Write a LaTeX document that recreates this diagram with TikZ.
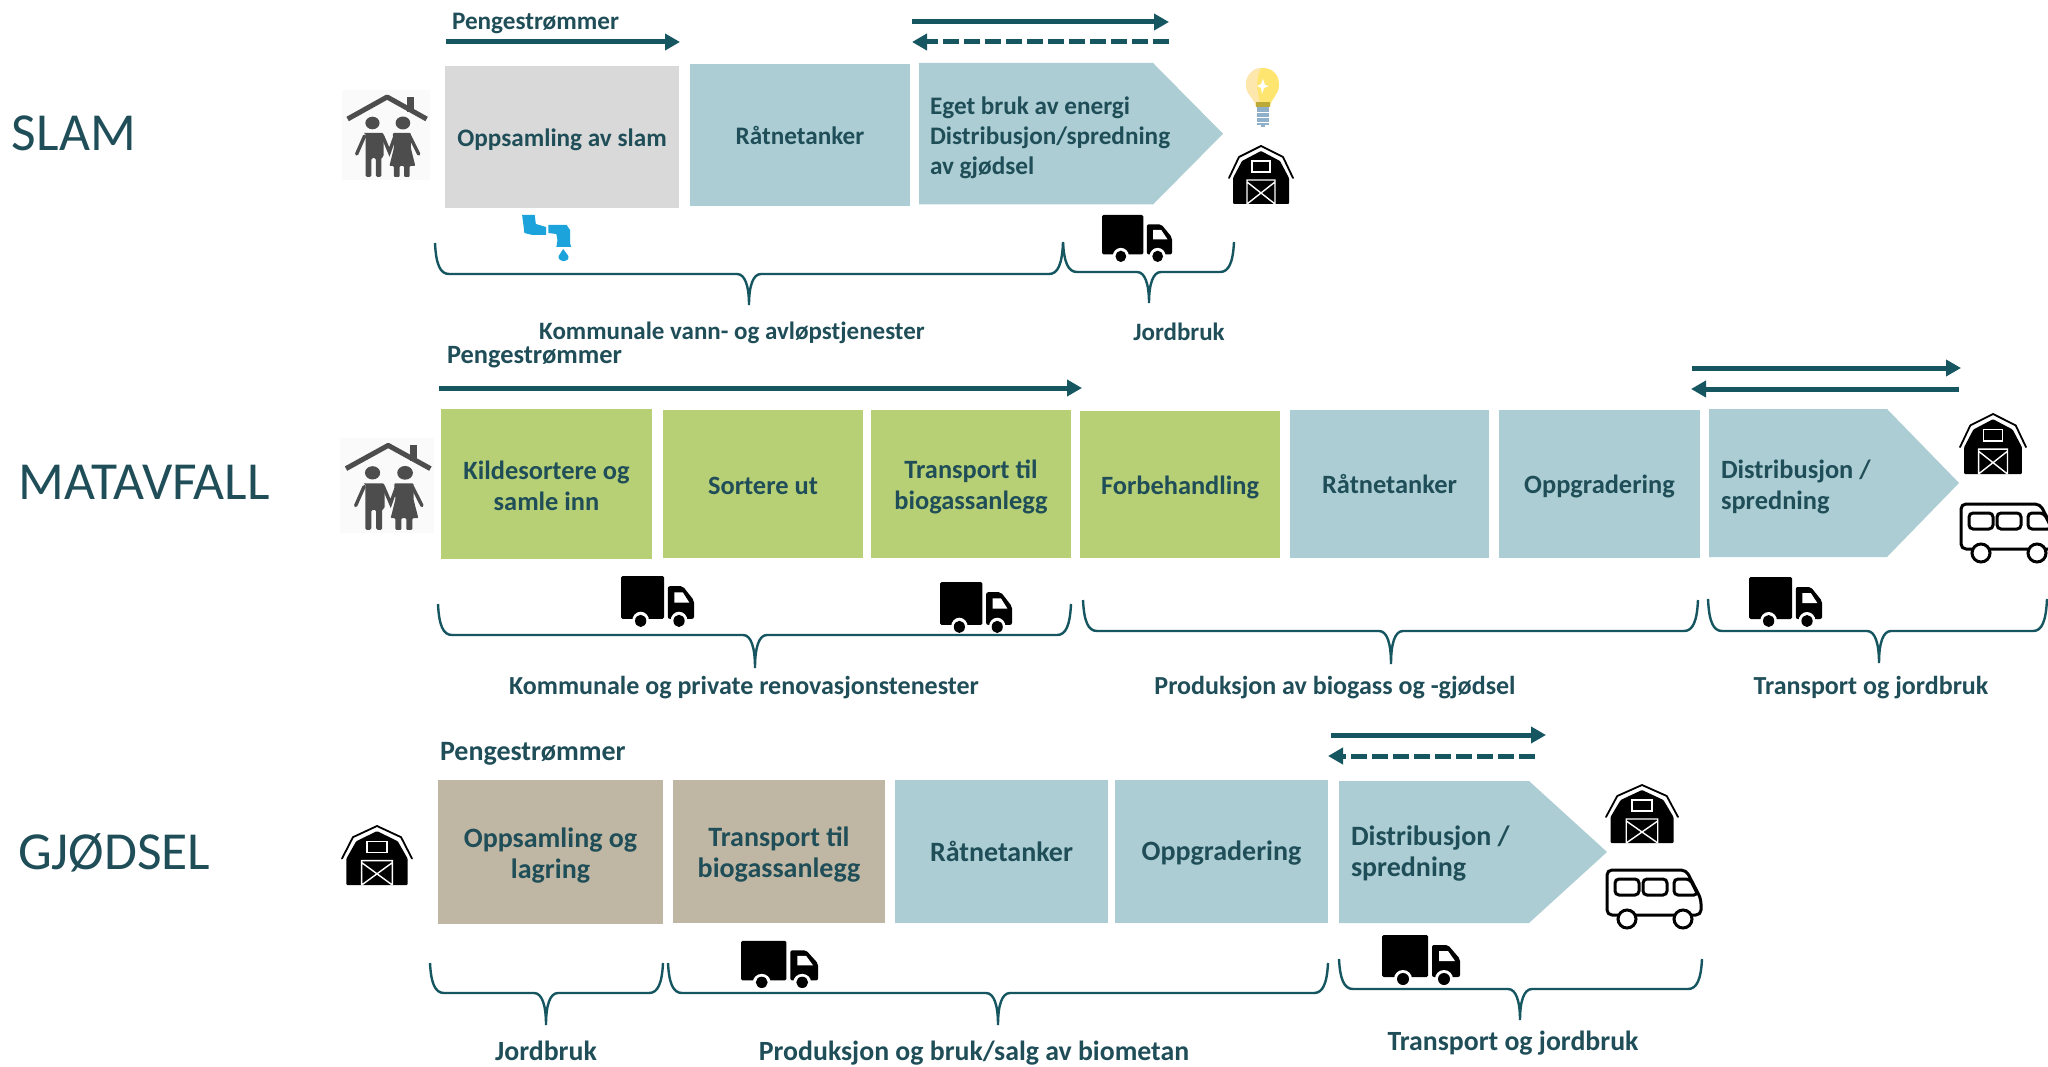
\documentclass[tikz,border=0pt]{standalone}
\usepackage{fontspec}
\setmainfont{Carlito}
\usetikzlibrary{arrows.meta}
\definecolor{tealtext}{HTML}{1F4E58}
\definecolor{tealline}{HTML}{155660}
\definecolor{blueb}{HTML}{ABCDD3}
\definecolor{greyb}{HTML}{D9D9D9}
\definecolor{greenb}{HTML}{B7CF75}
\definecolor{tanb}{HTML}{BFB7A3}
\definecolor{peoplec}{HTML}{4D4D4D}
\definecolor{tapc}{HTML}{1CA3DC}
\definecolor{screwc}{HTML}{8FB0C8}
\tikzset{
  x=1pt,y=-1pt,
  stage/.style={inner sep=0pt,outer sep=0pt,align=center,text=tealtext,font=\bfseries\fontsize{26.4}{31}\selectfont},
  stageS/.style={stage,font=\bfseries\fontsize{25.2}{30}\selectfont},
  stageG/.style={stage,font=\bfseries\fontsize{28}{31}\selectfont},
  caption/.style={inner sep=0pt,outer sep=0pt,text=tealtext,font=\bfseries\fontsize{26}{30}\selectfont},
  captionS/.style={caption,font=\bfseries\fontsize{25}{30}\selectfont},
  captionG/.style={caption,font=\bfseries\fontsize{27.8}{30}\selectfont},
  title/.style={inner sep=0pt,outer sep=0pt,text=tealtext,anchor=base west,font=\fontsize{53.5}{60}\selectfont},
  flow/.style={line width=5pt,draw=tealline,-{Triangle[length=15pt,width=16pt]}},
  flowd/.style={flow,dash pattern=on 16pt off 5pt},
  bracket/.style={draw=tealline,line width=2.4pt}
}
\newcommand{\stagebox}[9][stage]{%
  \fill[#7] (#3,#4) rectangle (#5,#6);
  \node[#1] (#2) at ({(#3+#5)/2},{(#4+#6)/2+#8}) {#9};}
\newcommand{\arrowbox}[5]{%
  \fill[blueb] (#1,#2) -- (#3,#2) -- (#4,{(#2+#5)/2}) -- (#3,#5) -- (#1,#5) -- cycle;}
\newcommand{\bracepath}[6]{%
  \draw[bracket] (#1,#4) .. controls (#1+1,#5-10) and (#1+5,#5) .. (#1+14,#5) -- (#3-12,#5)
    .. controls (#3-4,#5) and (#3,#5+12) .. (#3,#6)
    .. controls (#3,#5+12) and (#3+4,#5) .. (#3+12,#5) -- (#2-14,#5)
    .. controls (#2-5,#5) and (#2-1,#5-10) .. (#2,#4);}
\newcommand{\truckicon}[4]{%
  \begin{scope}[shift={(#1,#2)},xscale=#3/78,yscale=#4/52]
    \fill[black,rounded corners=1.5pt] (0,2) -- (46,2) -- (46,44) -- (0,44) -- cycle;
    \fill[black,rounded corners=2pt] (50,44) -- (50,12) -- (66,12) -- (78,26) -- (78,44) -- cycle;
    \fill[white] (57,18) -- (66,18) -- (73,28) -- (57,28) -- cycle;
    \fill[white] (21,46) circle (9) (62,46) circle (9);
    \fill[black] (21,46) circle (6) (62,46) circle (6);
  \end{scope}}
\newcommand{\barnicon}[4]{%
  \begin{scope}[shift={(#1,#2)},xscale=#3/64,yscale=#4/58]
    \draw[black,line width=1.8pt,line cap=round,line join=round] (0,32) -- (10,11) -- (32,0) -- (54,11) -- (64,32);
    \fill[black,rounded corners=1pt] (4,58) -- (4,32) -- (13,15) -- (32,5) -- (51,15) -- (60,32) -- (60,58) -- cycle;
    \draw[white,line width=1.4pt] (23,15) rectangle (41,26);
    \draw[white,line width=1.4pt] (18,58) -- (18,34) -- (46,34) -- (46,58) (18,58) -- (46,36) (18,36) -- (46,58);
  \end{scope}}
\newcommand{\busicon}[4]{%
  \begin{scope}[shift={(#1,#2)},xscale=#3/96,yscale=#4/60]
    \draw[black,line width=3pt,line join=round,rounded corners=5pt] (1,46) -- (1,1) -- (80,1) -- (95,30) -- (95,46) -- cycle;
    \draw[black,line width=3pt,rounded corners=4pt] (9,10) rectangle (33,26);
    \draw[black,line width=3pt,rounded corners=4pt] (37,10) rectangle (61,26);
    \draw[black,line width=3pt,rounded corners=4pt] (68,26) -- (68,10) -- (84,10) -- (92,26) -- cycle;
    \filldraw[fill=white,draw=black,line width=3pt] (21,50) circle (9) (77,50) circle (9);
  \end{scope}}
\newcommand{\peopleicon}[4]{%
  \begin{scope}[shift={(#1,#2)},xscale=#3/78,yscale=#4/90]
    \fill[gray!4] (0,0) rectangle (78,90);
    \fill[peoplec] (58,7) rectangle (64,22);
    \draw[peoplec,line width=5pt,line join=round] (5,29) -- (40,7) -- (75,29);
    \fill[peoplec] (27,33) circle (6.3) (54,33) circle (6.5);
    \fill[peoplec,rounded corners=1.5pt] (19,43) -- (37,43) -- (37,67) -- (35,67) -- (35,87) -- (30,87) -- (30,68) -- (26,68) -- (26,87) -- (21,87) -- (21,67) -- (21,43) -- cycle;
    \draw[peoplec,line width=3.4pt,line cap=round] (20,46) -- (13,64) (36,46) -- (42,62) -- (47,46) (60,46) -- (68,64);
    \fill[peoplec,rounded corners=1pt] (45,43) -- (61,43) -- (61,58) -- (65,76) -- (60,76) -- (60,87) -- (55,87) -- (55,76) -- (51,76) -- (51,87) -- (46,87) -- (46,76) -- (42,76) -- (46,58) -- cycle;
  \end{scope}}
\newcommand{\tapicon}[2]{%
  \begin{scope}[shift={(#1,#2)},xscale=1.14]
    \fill[tapc] (1,1) -- (12,1) -- (13,10) -- (22,13) -- (22,21) -- (10,21) -- (3,19) -- cycle;
    \fill[tapc] (24,11) -- (40,11) -- (43,16) -- (43,29) -- (44,33) -- (31,33) -- (32,26) -- (31,20) -- (24,19) -- cycle;
    \fill[tapc] (37,35) -- (41.5,42) .. controls (43,49) and (32,49) .. (33,42) -- cycle;
  \end{scope}}
\newcommand{\bulbicon}[2]{%
  \begin{scope}[shift={(#1,#2)}]
    \fill[yellow!70!orange!55] (0,17) .. controls (0,6) and (8,0) .. (17,0) .. controls (26,0) and (33,6) .. (33,17) .. controls (33,27) and (25,30) .. (24,39) -- (10,39) .. controls (9,30) and (0,27) .. (0,17) -- cycle;
    \fill[yellow!45!orange!30!white] (0,17) .. controls (0,6) and (8,0) .. (15,0) .. controls (8,12) and (12,28) .. (15,39) -- (10,39) .. controls (9,30) and (0,27) .. (0,17) -- cycle;
    \fill[white] (17,11) -- (19,17) -- (23,18) -- (18,20) -- (16,26) -- (15,20) -- (11,18) -- (15,16) -- cycle;
    \fill[yellow!80!orange!70!black] (10,34) rectangle (24,39);
    \fill[screwc] (11,39) rectangle (23,57);
    \draw[white,line width=.6pt] (11,44) -- (23,44) (11,49) -- (23,49) (11,54) -- (23,54);
    \fill[screwc] (15,57) rectangle (19,59);
  \end{scope}}
\begin{document}
\begin{tikzpicture}
\useasboundingbox (0,0) rectangle (2048,1067);
\clip (0,0) rectangle (2048,1067);
\fill[white] (0,0) rectangle (2048,1067);
% titles
\node[title] (tslam) at (12,151) {SLAM};
\node[title] (tmat) at (19,499) {MATAVFALL};
\node[title] (tgjo) at (18,869) {GJØDSEL};
% SLAM
\stagebox[stageS]{s1}{445}{66}{679}{208}{greyb}{2.5}{Oppsamling av slam}
\stagebox[stageS]{s2}{690}{64}{910}{206}{blueb}{0}{Råtnetanker}
\arrowbox{919}{63}{1153}{1223}{204.5}
\node[stageS,anchor=west,align=left] (s3t) at (930,137.5) {Eget bruk av energi\\Distribusjon/spredning\\av gjødsel};
\node[stageS,anchor=base west] (p1) at (452,30) {Pengestrømmer};
\draw[flow] (446,42) -- (680,42);
\draw[flow] (912,22) -- (1169,22);
\draw[flowd] (1169,42) -- (912,42);
\peopleicon{342}{90}{88}{90}
\tapicon{521}{214}
\bulbicon{1246}{68}
\barnicon{1229}{146}{64}{58}
\truckicon{1102}{213}{70}{49}
\bracepath{435}{1063}{749}{243}{274}{305}
\bracepath{1063}{1234}{1149}{242}{272}{303}
\node[captionS] (c1) at (732,332.5) {Kommunale vann- og avløpstjenester};
\node[captionS] (c2) at (1179,331.5) {Jordbruk};
% MATAVFALL
\stagebox{m1}{441}{409}{652}{559}{greenb}{1.5}{Kildesortere og\\samle inn}
\stagebox{m2}{663}{410}{863}{558}{greenb}{1.5}{Sortere ut}
\stagebox{m3}{871}{410}{1071}{558}{greenb}{2.5}{Transport til\\biogassanlegg}
\stagebox{m4}{1080}{411}{1280}{558}{greenb}{2.5}{Forbehandling}
\stagebox{m5}{1290}{410}{1489}{558}{blueb}{0.5}{Råtnetanker}
\stagebox{m6}{1499}{410}{1700}{558}{blueb}{2.5}{Oppgradering}
\arrowbox{1709}{409}{1887}{1959}{557}
\node[stage,anchor=west,align=left] (m7t) at (1721,486.5) {Distribusjon /\\spredning};
\node[stage,anchor=base west] (p2) at (447,363) {Pengestrømmer};
\draw[flow] (439,388) -- (1082,388);
\draw[flow] (1692,368) -- (1961,368);
\draw[flow] (1959,389) -- (1691,389);
\peopleicon{340}{438}{94}{95}
\barnicon{1960}{414}{66}{60}
\busicon{1960}{503}{96}{60}
\truckicon{621}{574}{73}{53}
\truckicon{940}{580}{72}{53}
\truckicon{1749}{575}{73}{52}
\bracepath{438}{1071}{755}{604}{635}{668}
\bracepath{1083}{1698}{1391}{600}{631}{664}
\bracepath{1708}{2047}{1879}{599}{631}{663}
\node[caption] (c3) at (744,688) {Kommunale og private renovasjonstenester};
\node[caption] (c4) at (1335,688) {Produksjon av biogass og -gjødsel};
\node[caption] (c5) at (1871,688) {Transport og jordbruk};
% GJØDSEL
\stagebox[stageG]{g1}{438}{780}{663}{924}{tanb}{4}{Oppsamling og\\lagring}
\stagebox[stageG]{g2}{673}{780}{885}{923}{tanb}{3}{Transport til\\biogassanlegg}
\stagebox[stageG]{g3}{895}{780}{1108}{923}{blueb}{0}{Råtnetanker}
\stagebox[stageG]{g4}{1115}{780}{1328}{923}{blueb}{1.5}{Oppgradering}
\arrowbox{1339}{781}{1529}{1607}{923}
\node[stageG,anchor=west,align=left] (g5t) at (1351,854) {Distribusjon /\\spredning};
\node[stageG,anchor=base west] (p3) at (440,760) {Pengestrømmer};
\draw[flow] (1331,735) -- (1546,735);
\draw[flowd] (1535,756) -- (1328,756);
\barnicon{342}{826}{70}{59}
\barnicon{1606}{785}{72}{58}
\busicon{1606}{869}{96}{60}
\truckicon{741}{939}{77}{49}
\truckicon{1382}{933}{78}{52}
\bracepath{430}{663}{546}{963}{993}{1025}
\bracepath{668}{1328}{998}{963}{993}{1025}
\bracepath{1339}{1702}{1520}{959}{989}{1020}
\node[captionG] (c6) at (546,1051) {Jordbruk};
\node[captionG] (c7) at (974,1053) {Produksjon og bruk/salg av biometan};
\node[captionG] (c8) at (1513,1043.5) {Transport og jordbruk};
\end{tikzpicture}
\end{document}
